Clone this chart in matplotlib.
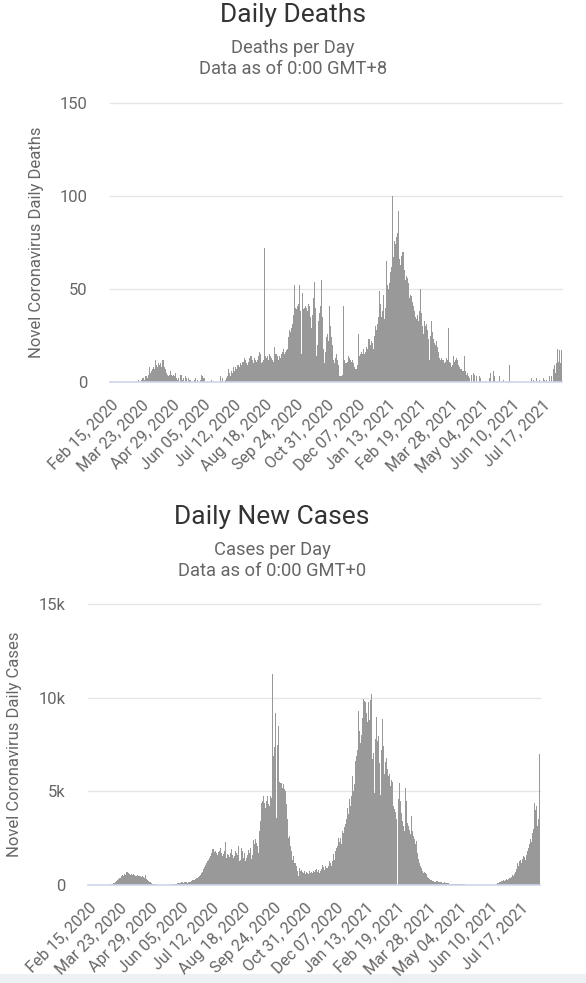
import numpy as np
import pandas as pd
import matplotlib
matplotlib.use("Agg")
import matplotlib.pyplot as plt
from matplotlib.patches import Rectangle

plt.rcParams['font.family'] = ['Roboto', 'DejaVu Sans']

# ---- data (one value per day) ----
start_date = "2020-02-15"
tick_step = 37

deaths_2020 = [
    0, 0, 0, 0, 0, 0, 0, 0, 0, 0, 0, 0, 0, 0, 0,                      # Feb 15-29
    0, 0, 0, 0, 0, 0, 0, 0, 0, 0, 0, 0, 0, 0, 0, 0, 0, 0, 0,
    1, 0, 0, 1, 2, 1, 2, 1, 3, 3, 2, 4,                                # Mar
    4, 8, 5, 6, 7, 5, 8, 7, 12, 9, 8, 12, 10, 9, 10, 8, 12, 11, 12, 8,
    7, 5, 4, 5, 3, 4, 6, 4, 3, 5,                                      # Apr
    4, 3, 5, 2, 1, 3, 2, 0, 4, 4, 1, 3, 2, 0, 3, 2, 0, 3, 2, 1,
    1, 0, 0, 0, 0, 1, 2, 0, 1, 0, 0,                                   # May
    0, 1, 4, 3, 0, 2, 2, 0, 0, 0, 0, 0, 0, 0, 1, 0, 0, 0, 0, 0,
    0, 0, 0, 0, 0, 3, 0, 2, 0, 0,                                      # Jun
    0, 1, 2, 3, 4, 7, 5, 3, 6, 5, 7, 8, 6, 8, 7, 9, 8, 9, 8, 10,
    9, 11, 12, 11, 13, 12, 10, 9, 12, 11, 13,                          # Jul
    14, 14, 12, 11, 10, 13, 12, 11, 12, 15, 14, 16, 15, 10, 11, 13, 12, 72, 14, 13,
    14, 14, 12, 15, 14, 13, 12, 9, 11, 19, 15,                         # Aug
    15, 14, 13, 12, 14, 13, 15, 16, 22, 18, 15, 16, 17, 18, 26, 24, 28, 27, 29, 31,
    40, 36, 52, 40, 39, 41, 40, 42, 52, 38,                            # Sep
    15, 48, 40, 39, 40, 41, 40, 38, 55, 42, 41, 35, 29, 36, 48, 45, 54, 40, 14, 20,
    27, 33, 37, 41, 55, 35, 23, 18, 10, 16, 24,                        # Oct
    26, 27, 22, 41, 30, 24, 20, 13, 12, 10, 13, 15, 12, 9, 6, 3, 3, 3, 4, 41,
    15, 12, 10, 10, 11, 14, 13, 13, 12, 11,                            # Nov
    12, 10, 11, 8, 7, 7, 9, 26, 18, 14, 15, 16, 15, 18, 17, 15, 16, 19, 18, 23,
    22, 23, 20, 22, 21, 18, 35, 25, 30, 28, 31,                        # Dec
]

deaths_2021 = [
    35, 33, 49, 42, 35, 38, 47, 40, 34, 40, 65, 52, 50, 47, 53, 59, 62, 100, 67, 70,
    76, 74, 78, 80, 92, 64, 66, 63, 68, 70, 70,                        # Jan
    65, 60, 55, 57, 56, 53, 51, 45, 47, 46, 43, 41, 37, 38, 35, 34, 36, 33, 0, 38,
    50, 37, 30, 26, 29, 33, 30, 31,                                    # Feb
    28, 23, 18, 12, 25, 33, 27, 23, 22, 21, 20, 22, 19, 16, 14, 13, 12, 13, 12, 12,
    11, 10, 11, 13, 12, 29, 13, 11, 10, 8, 9,                          # Mar
    14, 12, 11, 12, 13, 12, 9, 10, 8, 7, 7, 6, 6, 5, 14, 6, 4, 5, 3, 3,
    2, 0, 4, 0, 5, 0, 4, 0, 3, 0,                                      # Apr
    0, 0, 3, 2, 0, 0, 0, 0, 0, 0, 0, 0, 0, 6, 2, 5, 0, 0, 6, 0,
    3, 0, 0, 0, 0, 0, 3, 0, 0, 0, 1,                                   # May
    0, 0, 0, 0, 0, 0, 0, 9, 0, 0, 0, 0, 0, 0, 0, 0, 0, 0, 0, 0,
    0, 0, 0, 0, 0, 0, 0, 0, 0, 0,                                      # Jun
    0, 0, 0, 2, 0, 1, 0, 0, 0, 2, 0, 0, 0, 1, 0, 0, 0, 2, 0, 1,
    0, 1, 0, 0, 0, 3, 0, 3, 0, 7, 3,                                   # Jul
    9, 5, 10, 18, 11, 12, 17, 10, 17,                                  # Aug 1-9
]

cases_2020 = [
    0, 0, 0, 0, 0, 0, 1, 0, 0, 0, 0, 1, 0, 2, 1,                      # Feb 15-29
    1, 2, 3, 5, 4, 6, 8, 10, 11, 17, 22, 25, 45, 50, 60, 100, 120, 150, 200, 230,
    250, 300, 350, 400, 450, 500, 550, 480, 600, 560, 620,             # Mar
    680, 700, 650, 600, 560, 620, 580, 540, 600, 550, 500, 520, 480, 540, 500, 460,
    480, 450, 420, 500, 440, 400, 550, 380, 300, 250, 220, 180, 150, 120,  # Apr
    100, 80, 60, 50, 40, 30, 25, 20, 20, 15, 20, 25, 20, 15, 20, 15, 20, 25, 20, 15,
    20, 25, 30, 20, 25, 30, 40, 50, 60, 70, 80,                        # May
    90, 110, 100, 120, 130, 150, 140, 120, 150, 160, 140, 150, 130, 170, 160, 180,
    200, 220, 250, 280, 260, 300, 320, 350, 380, 420, 460, 520, 560, 620,  # Jun
    700, 850, 950, 1050, 1100, 1200, 1300, 1350, 1450, 1540, 1860, 1700, 1900, 1930,
    1750, 1800, 1650, 1710, 1600, 1750, 1800, 1980, 1960, 1700, 1540, 1650, 1800,
    2270, 1900, 1450, 1650,                                            # Jul
    1600, 1500, 1700, 1710, 1900, 1600, 1450, 1540, 1800, 1840, 1700, 1600, 2070,
    1270, 1360, 1650, 2000, 1800, 1450, 1700, 1270, 1550, 1450, 1600, 1850, 1700,
    1980, 1750, 1400, 1600, 2400,                                      # Aug
    2200, 2430, 2870, 2250, 2100, 1700, 2900, 3400, 3760, 4400, 4480, 4750, 4400,
    4120, 6060, 4500, 4750, 4300, 4200, 4750, 5290, 4660, 11270, 6900, 7340, 9200,
    6900, 3590, 7500, 8500,                                            # Sep
    5500, 5460, 5400, 5460, 5200, 5370, 5100, 5020, 4700, 4300, 3500, 2510, 2600,
    2070, 1700, 1800, 1360, 1540, 1180, 1180, 1000, 1000, 730, 460, 910, 730, 640,
    820, 700, 640, 730,                                                # Oct
    600, 550, 700, 650, 600, 730, 640, 500, 700, 640, 750, 680, 820, 850, 600, 700,
    800, 640, 760, 850, 900, 1050, 950, 800, 1000, 910, 850, 900, 1000, 1300,  # Nov
    1200, 1000, 1400, 1300, 1650, 1350, 1800, 2000, 2300, 2100, 2500, 2300, 2500,
    2200, 4390, 2900, 2800, 3100, 3230, 3500, 4000, 4120, 3800, 4600, 4200, 4750,
    4300, 5820, 5000, 5400, 6630,                                      # Dec
]

cases_2021 = [
    6900, 6180, 7200, 9300, 8200, 7600, 8000, 8500, 8900, 9930, 9800, 9750, 9200,
    8500, 8700, 9750, 8800, 9900, 10200, 8000, 6710, 7070, 4930, 7800, 8950, 8300,
    7700, 7960, 6500, 4800, 7200,                                      # Jan
    8000, 8860, 7400, 5910, 6540, 6800, 7100, 6200, 5800, 5910, 5290, 5600, 6000,
    5500, 4210, 4040, 3900, 3500, 3230, 0, 4600, 5460, 4500, 3860, 3700, 3400,
    3140, 2900,                                                        # Feb
    5200, 4500, 3700, 3300, 3140, 2960, 2700, 3700, 3200, 2900, 2600, 2430, 2200,
    2340, 1800, 1700, 1400, 1200, 1000, 900, 800, 750, 640, 700, 650, 600, 550,
    450, 400, 320, 290,                                                # Mar
    250, 220, 200, 230, 180, 150, 200, 230, 210, 180, 150, 170, 160, 140, 130, 120,
    140, 110, 100, 120, 110, 90, 80, 70, 60, 70, 50, 60, 50, 40,       # Apr
    40, 50, 35, 30, 45, 40, 30, 25, 30, 35, 30, 25, 20, 30, 25, 20, 15, 20, 25, 20,
    15, 10, 15, 20, 15, 10, 15, 20, 15, 10, 10,                        # May
    10, 5, 10, 15, 10, 5, 10, 8, 10, 15, 12, 10, 8, 10, 15, 20, 25, 30, 60, 100,
    120, 150, 180, 200, 180, 220, 250, 230, 280, 300,                  # Jun
    300, 280, 320, 350, 400, 450, 500, 550, 480, 600, 700, 850, 1100, 1180, 1000,
    1300, 1360, 1200, 1150, 1400, 1540, 1500, 1350, 1600, 1890, 1800, 2000, 2200,
    2430, 2300, 2600,                                                  # Jul
    2790, 3000, 4390, 4000, 4210, 4300, 3140, 3500, 6980,              # Aug 1-9
]

death_ticks = [0, 50, 100, 150]
death_tick_labels = ["0", "50", "100", "150"]
case_ticks = [0, 5000, 10000, 15000]
case_tick_labels = ["0", "5k", "10k", "15k"]

deaths = np.array(deaths_2020 + deaths_2021)
cases = np.array(cases_2020 + cases_2021)
days = pd.date_range(start_date, periods=len(deaths), freq="D")
tick_idx = np.arange(0, len(days), tick_step)
tick_labels = [days[i].strftime("%b %d, %Y") for i in tick_idx]

# ---- styling ----
BAR = "#999999"
GRID = "#e6e6e6"
AXIS = "#ccd6eb"
TITLE = "#333333"
SUB = "#666666"

W, H = 586, 983
fig = plt.figure(figsize=(W / 100, H / 100), dpi=100)

# light strip at the bottom of the page (the tick labels run over it)
fig.patches.append(Rectangle((0, 0), 1, 9 / H, transform=fig.transFigure,
                             facecolor="#eef1f4", edgecolor="none", zorder=-5))


def px_axes(left, top, right, bottom):
    return fig.add_axes([left / W, 1 - bottom / H, (right - left) / W, (bottom - top) / H])


def bar_panel(ax, values, yticks, ylabels):
    x = np.arange(len(values))
    ax.bar(x, values, width=1.0, color=BAR, linewidth=0, zorder=2)
    ax.set_xlim(-0.5, len(values) - 0.5)
    ax.set_ylim(0, yticks[-1])
    for y in yticks[1:]:
        ax.axhline(y, color=GRID, lw=1, zorder=1, clip_on=False)
    ax.axhline(0, color=AXIS, lw=1.2, zorder=3, clip_on=False)
    for s in ax.spines.values():
        s.set_visible(False)
    ax.set_yticks(yticks, ylabels)
    ax.set_xticks(tick_idx, tick_labels, rotation=45, ha="right",
                  rotation_mode="anchor")
    ax.tick_params(axis="y", length=0, pad=16, labelsize=12, labelcolor=SUB)
    ax.tick_params(axis="x", length=0, pad=11, labelsize=11.5, labelcolor=SUB)
    ax.patch.set_alpha(0)


def header(cx, y, title, sub1, sub2):
    fig.text(cx / W, 1 - y / H, title, ha="center", va="center",
             fontsize=19, color=TITLE)
    fig.text(cx / W, 1 - (y + 33) / H, sub1, ha="center", va="center",
             fontsize=13.2, color=SUB)
    fig.text(cx / W, 1 - (y + 54) / H, sub2, ha="center", va="center",
             fontsize=13.2, color=SUB)


# Daily deaths
ax1 = px_axes(110, 103, 562, 382)
bar_panel(ax1, deaths, death_ticks, death_tick_labels)
header(293, 15, "Daily Deaths", "Deaths per Day", "Data as of 0:00 GMT+8")
fig.text(37 / W, 1 - 242 / H, "Novel Coronavirus Daily Deaths", rotation=90,
         ha="center", va="center", fontsize=12, color=SUB)

# Daily new cases
ax2 = px_axes(88, 604, 540, 885)
bar_panel(ax2, cases, case_ticks, case_tick_labels)
header(272, 517, "Daily New Cases", "Cases per Day", "Data as of 0:00 GMT+0")
fig.text(15 / W, 1 - 744 / H, "Novel Coronavirus Daily Cases", rotation=90,
         ha="center", va="center", fontsize=12, color=SUB)

fig.savefig("out.png", dpi=100)
